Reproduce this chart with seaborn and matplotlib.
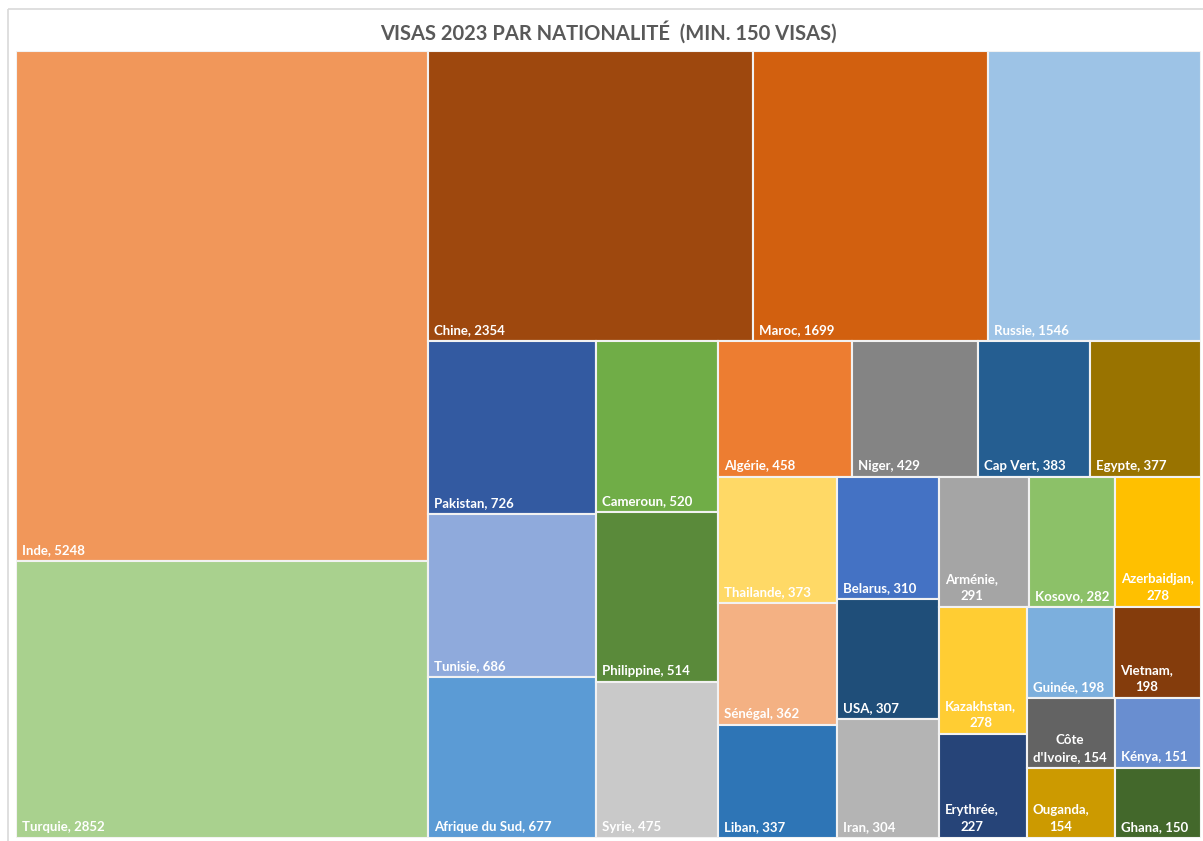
import matplotlib
matplotlib.use("Agg")
import matplotlib.pyplot as plt
import seaborn as sns
from matplotlib.patches import Rectangle

# Visas 2023 par nationalité (min. 150 visas)
pays = ["Inde", "Turquie", "Chine", "Maroc", "Russie", "Pakistan", "Tunisie",
        "Afrique du Sud", "Cameroun", "Philippine", "Syrie", "Algérie", "Niger",
        "Cap Vert", "Egypte", "Thailande", "Sénégal", "Liban", "Belarus", "USA",
        "Iran", "Arménie", "Kosovo", "Azerbaidjan", "Kazakhstan", "Erythrée",
        "Guinée", "Vietnam", "Côte d'Ivoire", "Ouganda", "Kénya", "Ghana"]
visas = [5248, 2852, 2354, 1699, 1546, 726, 686, 677, 520, 514, 475, 458, 429,
         383, 377, 373, 362, 337, 310, 307, 304, 291, 282, 278, 278, 227,
         198, 198, 154, 154, 151, 150]

couleurs = ["#F1975A", "#A9D18E", "#9E480E", "#D2600F", "#9DC3E6", "#335AA1",
            "#8FAADC", "#5B9BD5", "#70AD47", "#5A8A3A", "#C9C9C9", "#ED7D31",
            "#848484", "#255E91", "#997300", "#FFD966", "#F4B183", "#2E75B6",
            "#4472C4", "#1F4E79", "#B4B4B4", "#A5A5A5", "#8CC168", "#FFC000",
            "#FFCD33", "#264478", "#7CAFDD", "#843C0C", "#636363", "#CC9A00",
            "#698ED0", "#43682B"]

# Excel lays the treemap out in a box slightly wider than the drawn one
LAYOUT_ASPECT = 1.53


def worst(row, side):
    s = sum(row)
    return max(max(side ** 2 * a / s ** 2, s ** 2 / (side ** 2 * a)) for a in row)


def layout_strip(row, x, y, dx, dy):
    s = sum(row)
    rects = []
    if dx >= dy:
        w = s / dy
        yy = y
        for a in row:
            h = a / w
            rects.append((x, yy, w, h))
            yy += h
        return rects, (x + w, y, dx - w, dy)
    h = s / dx
    xx = x
    for a in row:
        w = a / h
        rects.append((xx, y, w, h))
        xx += w
    return rects, (x, y + h, dx, dy - h)


def squarify(values, x, y, dx, dy):
    total = sum(values)
    areas = [v * dx * dy / total for v in values]
    rects = []
    i = 0
    while i < len(areas):
        side = min(dx, dy)
        row = [areas[i]]
        i += 1
        while i < len(areas) and worst(row + [areas[i]], side) <= worst(row, side):
            row.append(areas[i])
            i += 1
        r, (x, y, dx, dy) = layout_strip(row, x, y, dx, dy)
        rects += r
    return rects


sns.set_theme(style="white")
plt.rcParams["font.family"] = ["Lato", "DejaVu Sans"]

W, H = 1203, 841
fig = plt.figure(figsize=(W / 100, H / 100), dpi=100)
fig.patch.set_facecolor("white")

# chart border
fig.patches.append(Rectangle((8 / W, 1 - 9 / H), 1.2, -1.2, transform=fig.transFigure,
                             fill=False, edgecolor="#D9D9D9", linewidth=1.2))

pw, ph = 1185, 787
ax = fig.add_axes([16 / W, 1 - (51 + ph) / H, pw / W, ph / H])
ax.set_xlim(0, pw)
ax.set_ylim(ph, 0)
ax.axis("off")

sx = pw / LAYOUT_ASPECT
rects = [(x * sx, y * ph, w * sx, h * ph)
         for x, y, w, h in squarify(visas, 0, 0, LAYOUT_ASPECT, 1.0)]

fig.canvas.draw()
renderer = fig.canvas.get_renderer()
probe = ax.text(0, 0, "", fontsize=9.5, fontweight="bold")


def text_width(s):
    probe.set_text(s)
    return probe.get_window_extent(renderer).width


def wrap_label(s, maxw):
    if text_width(s) <= maxw:
        return s
    lines, cur = [], ""
    for word in s.split(" "):
        cand = word if not cur else cur + " " + word
        if text_width(cand) <= maxw or not cur:
            cur = cand
        else:
            lines.append(cur)
            cur = word
    lines.append(cur)
    return "\n".join(lines)


for (x, y, w, h), nom, v, c in zip(rects, pays, visas, couleurs):
    ax.add_patch(Rectangle((x, y), w, h, facecolor=c, edgecolor="#F2F2F2", linewidth=1.5))
    label = wrap_label(f"{nom}, {v}", w - 11)
    ax.text(x + 6, y + h - 5, label, fontsize=9.5, fontweight="bold", color="white",
            ha="left", va="bottom", multialignment="center", linespacing=1.5)

probe.remove()

fig.text(608 / W, 1 - 32 / H, "VISAS 2023 PAR NATIONALITÉ  (MIN. 150 VISAS)",
         fontsize=14.5, fontweight="bold", color="#595959", ha="center", va="center")

fig.savefig("out.png", dpi=100)
